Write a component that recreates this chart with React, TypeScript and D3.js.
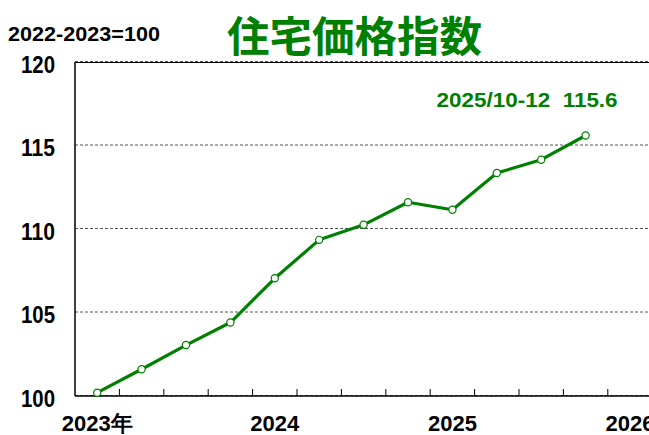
import React from 'react';
import * as d3 from 'd3';

// quarters shown on the x axis (last band has no data yet)
const quarters = [
  '2023/1-3', '2023/4-6', '2023/7-9', '2023/10-12',
  '2024/1-3', '2024/4-6', '2024/7-9', '2024/10-12',
  '2025/1-3', '2025/4-6', '2025/7-9', '2025/10-12',
  '2026/1-3',
];
const values = [100.2, 101.6, 103.05, 104.4, 107.05, 109.35, 110.25, 111.6, 111.15, 113.35, 114.15, 115.6];
const yearLabels = ['2023年', '2024', '2025', '2026'];
const yearIndex = [0, 4, 8, 12];
const yTicks = [100, 105, 110, 115, 120];

const W = 649;
const H = 435;
const left = 75;
const top = 62;
const bottom = 396;
const step = 44.4;

const GREEN = '#008000';
const NARROW = '"Liberation Sans Narrow", "Liberation Sans", Arial, sans-serif';

export default function App() {
  const x = d3
    .scaleBand<string>()
    .domain(quarters)
    .range([left, left + step * quarters.length])
    .padding(0);
  const y = d3.scaleLinear().domain([100, 120]).range([bottom, top]);

  const cx = (i: number) => (x(quarters[i]) as number) + x.bandwidth() / 2;

  const line = d3
    .line<number>()
    .x((d, i) => cx(i))
    .y(d => y(d));

  const last = values.length - 1;

  return (
    <svg width={W} height={H} style={{ position: 'absolute', left: 0, top: 0, background: '#fff' }}>
      {/* unit note + title */}
      <text x={8} y={41} fontFamily={NARROW} fontWeight="bold" fontSize={20} textLength={152} lengthAdjust="spacingAndGlyphs" fill="#000">
        2022-2023=100
      </text>
      <text x={227} y={52} fontFamily='"Noto Sans CJK JP", sans-serif' fontWeight="bold" fontSize={42} textLength={255} lengthAdjust="spacingAndGlyphs" fill={GREEN}>
        住宅価格指数
      </text>

      {/* grid */}
      {yTicks.map(t => (
        <line key={t} x1={left} x2={W} y1={y(t) - 0.5} y2={y(t) - 0.5} stroke="#555" strokeWidth={1} strokeDasharray="3,2" />
      ))}
      <line x1={left} x2={W} y1={top + 0.5} y2={top + 0.5} stroke="#000" strokeWidth={1} />

      {/* axes */}
      <line x1={left} x2={left} y1={top} y2={bottom} stroke="#000" strokeWidth={1.5} />
      <line x1={left} x2={W} y1={bottom} y2={bottom} stroke="#000" strokeWidth={1.5} />
      {quarters.map((q, i) =>
        i === 0 ? null : (
          <line key={q} x1={x(q)} x2={x(q)} y1={bottom} y2={bottom - 7} stroke="#000" strokeWidth={1} />
        )
      )}

      {/* y labels */}
      {yTicks.map(t => (
        <text key={t} x={55} y={y(t) + 10.5} textAnchor="end" fontFamily={NARROW} fontWeight="bold" fontSize={23} textLength={34} lengthAdjust="spacingAndGlyphs" fill="#000">
          {t}
        </text>
      ))}

      {/* x labels */}
      {yearLabels.map((lab, k) => (
        <text key={lab} x={cx(yearIndex[k])} y={431} textAnchor="middle" fontFamily={NARROW} fontWeight="bold" fontSize={22} fill="#000">
          {lab}
        </text>
      ))}

      {/* series */}
      <path d={line(values) as string} fill="none" stroke={GREEN} strokeWidth={3.2} strokeLinejoin="round" />
      {values.map((v, i) => (
        <circle key={i} cx={cx(i)} cy={y(v)} r={3.6} fill="#fff" stroke={GREEN} strokeWidth={1.2} />
      ))}

      {/* latest value note */}
      <text x={cx(last) + 32} y={107} textAnchor="end" fontFamily={NARROW} fontWeight="bold" fontSize={21} textLength={181} lengthAdjust="spacingAndGlyphs" fill={GREEN} style={{ whiteSpace: 'pre' }}>
        {`${quarters[last]}  ${values[last]}`}
      </text>
    </svg>
  );
}
